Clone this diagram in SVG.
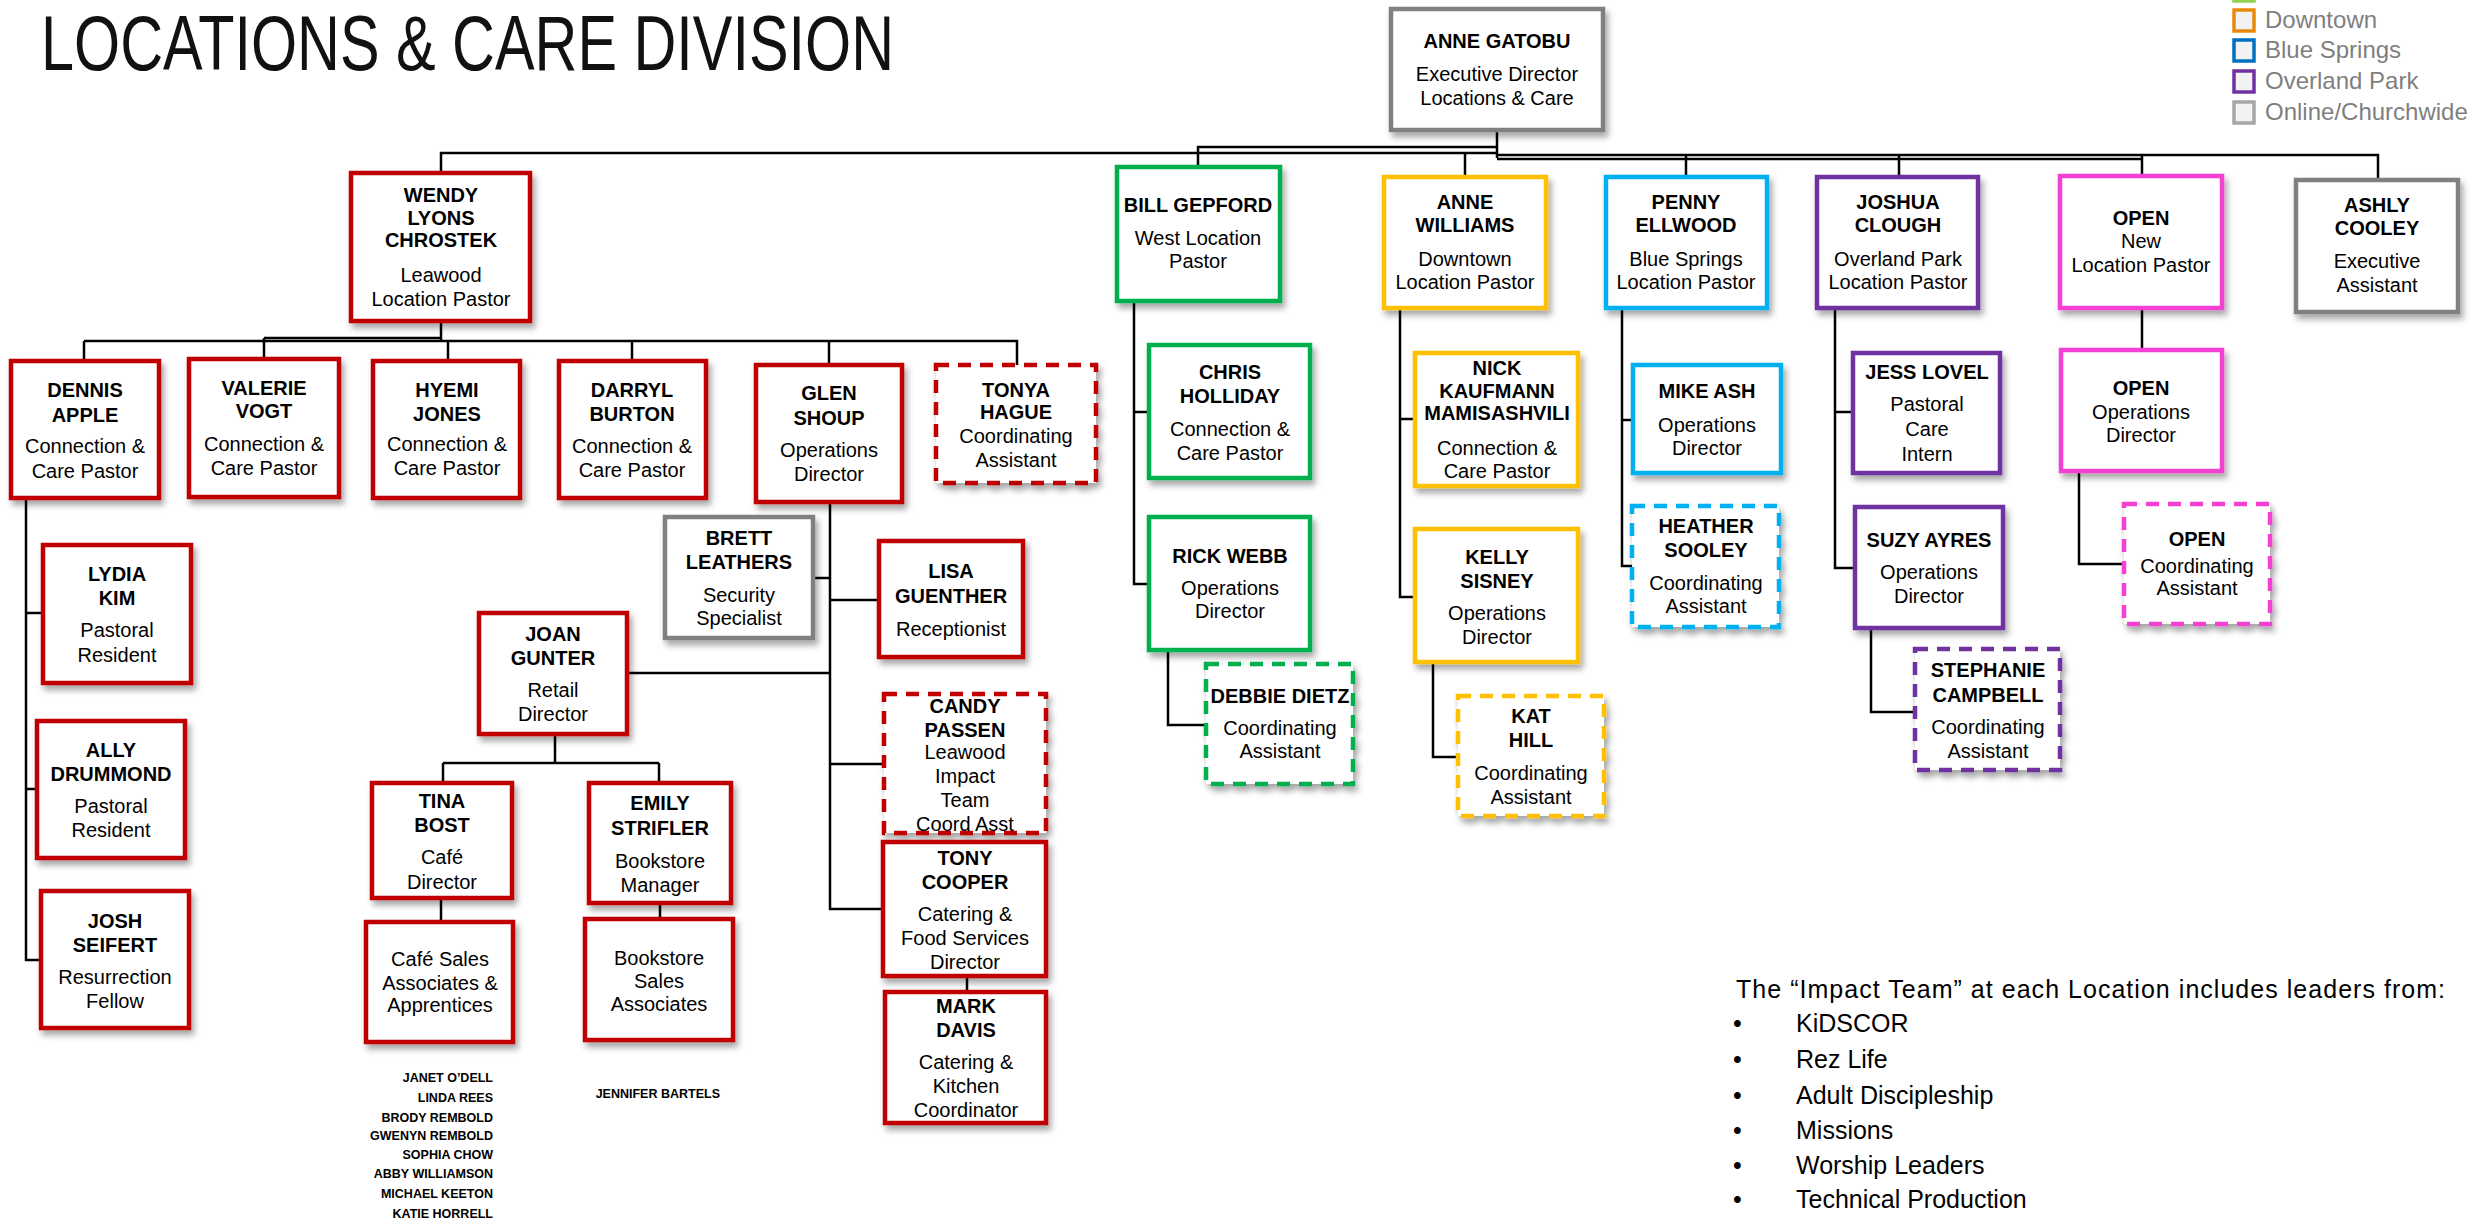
<svg xmlns="http://www.w3.org/2000/svg" width="2471" height="1225" viewBox="0 0 2471 1225">
<defs>
<filter id="sh" x="-10%" y="-10%" width="130%" height="130%">
<feDropShadow dx="3" dy="5" stdDeviation="3" flood-color="#000" flood-opacity="0.35"/>
</filter>
</defs>
<style>
.box{fill:#fff;stroke-width:4.5;filter:url(#sh)}
.d{stroke-dasharray:13 9}
.red{stroke:#c00000}.grn{stroke:#00b050}.yel{stroke:#ffc000}.blu{stroke:#00b0f0}.pur{stroke:#7030a0}.mag{stroke:#f540d4}.gry{stroke:#808080}
text{font-family:"Liberation Sans",Arial,sans-serif;fill:#000;text-anchor:middle}
.n{font-size:20px;font-weight:bold}
.s{font-size:20px}
.lst{font-size:12.5px;font-weight:bold;text-anchor:end}
.lg{font-size:24px;fill:#7f7f7f;text-anchor:start}
.it{font-size:25px;text-anchor:start}
.con path{fill:none;stroke:#000;stroke-width:2.5}
</style>
<rect width="2471" height="1225" fill="#fff"/>
<text x="41" y="70" style="font-size:77px;text-anchor:start;fill:#111" textLength="853" lengthAdjust="spacingAndGlyphs">LOCATIONS &amp; CARE DIVISION</text>

<g id="legend">
<rect x="2234" y="-19" width="20" height="20" fill="#f2f2f2" stroke="#92d050" stroke-width="3.5"/>
<rect x="2234" y="10" width="20" height="21" fill="#f2f2f2" stroke="#e8890c" stroke-width="3.5"/>
<rect x="2234" y="40" width="20" height="21" fill="#f2f2f2" stroke="#0070c0" stroke-width="3.5"/>
<rect x="2234" y="71" width="20" height="21" fill="#f2f2f2" stroke="#7030a0" stroke-width="3.5"/>
<rect x="2234" y="102" width="20" height="21" fill="#f2f2f2" stroke="#a6a6a6" stroke-width="3.5"/>
<text class="lg" x="2265" y="28">Downtown</text>
<text class="lg" x="2265" y="58">Blue Springs</text>
<text class="lg" x="2265" y="89">Overland Park</text>
<text class="lg" x="2265" y="120">Online/Churchwide</text>
</g>

<g id="connectors" class="con">
<path d="M1497 130 V158"/>
<path d="M1497 153 H441 V173"/>
<path d="M1497 147 H1198 V167"/>
<path d="M1465 153 V177"/>
<path d="M1497 155 H2378 V180"/>
<path d="M1497 159 H2142"/>
<path d="M1686 155 V177"/>
<path d="M1899 155 V177"/>
<path d="M2142 155 V175"/>
<path d="M441 321 V341"/>
<path d="M84 341 H1017 V365"/>
<path d="M84 341 V361"/>
<path d="M264 338 H441"/>
<path d="M264 338 V359"/>
<path d="M448 341 V361"/>
<path d="M632 341 V361"/>
<path d="M829 341 V365"/>
<path d="M26 498 V960 H41"/>
<path d="M26 613 H43"/>
<path d="M26 789 H37"/>
<path d="M830 502 V909 H883"/>
<path d="M814 578 H830"/>
<path d="M830 600 H879"/>
<path d="M627 673 H830"/>
<path d="M830 764 H884"/>
<path d="M555 734 V763"/>
<path d="M443 763 H659"/>
<path d="M443 763 V783"/>
<path d="M659 763 V783"/>
<path d="M441 898 V922"/>
<path d="M660 903 V919"/>
<path d="M967 976 V992"/>
<path d="M1134 301 V584 H1149"/>
<path d="M1134 412 H1149"/>
<path d="M1168 650 V725 H1206"/>
<path d="M1400 308 V597 H1415"/>
<path d="M1400 419 H1415"/>
<path d="M1433 662 V757 H1458"/>
<path d="M1622 308 V566 H1632"/>
<path d="M1622 420 H1633"/>
<path d="M1835 308 V568 H1855"/>
<path d="M1835 412 H1853"/>
<path d="M1871 628 V712 H1915"/>
<path d="M2142 308 V350"/>
<path d="M2079 471 V564 H2124"/>
</g>

<g id="anne-gatobu"><rect class="box gry" x="1391" y="9" width="212" height="121"/>
<text class="n" x="1497" y="48">ANNE GATOBU</text><text class="s" x="1497" y="81">Executive Director</text><text class="s" x="1497" y="105">Locations &amp; Care</text></g>

<g id="wendy"><rect class="box red" x="351" y="173" width="179" height="148"/>
<text class="n" x="441" y="202">WENDY</text><text class="n" x="441" y="225">LYONS</text><text class="n" x="441" y="247">CHROSTEK</text><text class="s" x="441" y="282">Leawood</text><text class="s" x="441" y="306">Location Pastor</text></g>

<g id="bill"><rect class="box grn" x="1117" y="167" width="163" height="134"/>
<text class="n" x="1198" y="212">BILL GEPFORD</text><text class="s" x="1198" y="245">West Location</text><text class="s" x="1198" y="268">Pastor</text></g>

<g id="anne-williams"><rect class="box yel" x="1384" y="177" width="162" height="131"/>
<text class="n" x="1465" y="209">ANNE</text><text class="n" x="1465" y="232">WILLIAMS</text><text class="s" x="1465" y="266">Downtown</text><text class="s" x="1465" y="289">Location Pastor</text></g>

<g id="penny"><rect class="box blu" x="1606" y="177" width="161" height="131"/>
<text class="n" x="1686" y="209">PENNY</text><text class="n" x="1686" y="232">ELLWOOD</text><text class="s" x="1686" y="266">Blue Springs</text><text class="s" x="1686" y="289">Location Pastor</text></g>

<g id="joshua"><rect class="box pur" x="1817" y="177" width="161" height="131"/>
<text class="n" x="1898" y="209">JOSHUA</text><text class="n" x="1898" y="232">CLOUGH</text><text class="s" x="1898" y="266">Overland Park</text><text class="s" x="1898" y="289">Location Pastor</text></g>

<g id="open-pastor"><rect class="box mag" x="2060" y="176" width="162" height="132"/>
<text class="n" x="2141" y="225">OPEN</text><text class="s" x="2141" y="248">New</text><text class="s" x="2141" y="272">Location Pastor</text></g>

<g id="ashly"><rect class="box gry" x="2296" y="180" width="162" height="132"/>
<text class="n" x="2377" y="212">ASHLY</text><text class="n" x="2377" y="235">COOLEY</text><text class="s" x="2377" y="268">Executive</text><text class="s" x="2377" y="292">Assistant</text></g>

<g id="dennis"><rect class="box red" x="11" y="361" width="148" height="137"/>
<text class="n" x="85" y="397">DENNIS</text><text class="n" x="85" y="422">APPLE</text><text class="s" x="85" y="453">Connection &amp;</text><text class="s" x="85" y="478">Care Pastor</text></g>

<g id="valerie"><rect class="box red" x="189" y="359" width="150" height="138"/>
<text class="n" x="264" y="395">VALERIE</text><text class="n" x="264" y="418">VOGT</text><text class="s" x="264" y="451">Connection &amp;</text><text class="s" x="264" y="475">Care Pastor</text></g>

<g id="hyemi"><rect class="box red" x="373" y="361" width="147" height="137"/>
<text class="n" x="447" y="397">HYEMI</text><text class="n" x="447" y="421">JONES</text><text class="s" x="447" y="451">Connection &amp;</text><text class="s" x="447" y="475">Care Pastor</text></g>

<g id="darryl"><rect class="box red" x="559" y="361" width="147" height="137"/>
<text class="n" x="632" y="397">DARRYL</text><text class="n" x="632" y="421">BURTON</text><text class="s" x="632" y="453">Connection &amp;</text><text class="s" x="632" y="477">Care Pastor</text></g>

<g id="glen"><rect class="box red" x="756" y="365" width="146" height="137"/>
<text class="n" x="829" y="400">GLEN</text><text class="n" x="829" y="425">SHOUP</text><text class="s" x="829" y="457">Operations</text><text class="s" x="829" y="481">Director</text></g>

<g id="tonya"><rect class="box red d" x="936" y="365" width="160" height="118"/>
<text class="n" x="1016" y="397">TONYA</text><text class="n" x="1016" y="419">HAGUE</text><text class="s" x="1016" y="443">Coordinating</text><text class="s" x="1016" y="467">Assistant</text></g>

<g id="lydia"><rect class="box red" x="43" y="545" width="148" height="138"/>
<text class="n" x="117" y="581">LYDIA</text><text class="n" x="117" y="605">KIM</text><text class="s" x="117" y="637">Pastoral</text><text class="s" x="117" y="662">Resident</text></g>

<g id="ally"><rect class="box red" x="37" y="721" width="148" height="137"/>
<text class="n" x="111" y="757">ALLY</text><text class="n" x="111" y="781">DRUMMOND</text><text class="s" x="111" y="813">Pastoral</text><text class="s" x="111" y="837">Resident</text></g>

<g id="josh"><rect class="box red" x="41" y="891" width="148" height="137"/>
<text class="n" x="115" y="928">JOSH</text><text class="n" x="115" y="952">SEIFERT</text><text class="s" x="115" y="984">Resurrection</text><text class="s" x="115" y="1008">Fellow</text></g>

<g id="brett"><rect class="box gry" x="665" y="517" width="148" height="121"/>
<text class="n" x="739" y="545">BRETT</text><text class="n" x="739" y="569">LEATHERS</text><text class="s" x="739" y="602">Security</text><text class="s" x="739" y="625">Specialist</text></g>

<g id="lisa"><rect class="box red" x="879" y="541" width="144" height="116"/>
<text class="n" x="951" y="578">LISA</text><text class="n" x="951" y="603">GUENTHER</text><text class="s" x="951" y="636">Receptionist</text></g>

<g id="joan"><rect class="box red" x="479" y="613" width="148" height="121"/>
<text class="n" x="553" y="641">JOAN</text><text class="n" x="553" y="665">GUNTER</text><text class="s" x="553" y="697">Retail</text><text class="s" x="553" y="721">Director</text></g>

<g id="candy"><rect class="box red d" x="884" y="694" width="162" height="139"/>
<text class="n" x="965" y="713">CANDY</text><text class="n" x="965" y="737">PASSEN</text><text class="s" x="965" y="759">Leawood</text><text class="s" x="965" y="783">Impact</text><text class="s" x="965" y="807">Team</text><text class="s" x="965" y="831">Coord Asst</text></g>

<g id="tony"><rect class="box red" x="883" y="842" width="163" height="134"/>
<text class="n" x="965" y="865">TONY</text><text class="n" x="965" y="889">COOPER</text><text class="s" x="965" y="921">Catering &amp;</text><text class="s" x="965" y="945">Food Services</text><text class="s" x="965" y="969">Director</text></g>

<g id="mark"><rect class="box red" x="885" y="992" width="161" height="131"/>
<text class="n" x="966" y="1013">MARK</text><text class="n" x="966" y="1037">DAVIS</text><text class="s" x="966" y="1069">Catering &amp;</text><text class="s" x="966" y="1093">Kitchen</text><text class="s" x="966" y="1117">Coordinator</text></g>

<g id="tina"><rect class="box red" x="372" y="783" width="140" height="115"/>
<text class="n" x="442" y="808">TINA</text><text class="n" x="442" y="832">BOST</text><text class="s" x="442" y="864">Café</text><text class="s" x="442" y="889">Director</text></g>

<g id="emily"><rect class="box red" x="589" y="783" width="142" height="120"/>
<text class="n" x="660" y="810">EMILY</text><text class="n" x="660" y="835">STRIFLER</text><text class="s" x="660" y="868">Bookstore</text><text class="s" x="660" y="892">Manager</text></g>

<g id="cafe-sales"><rect class="box red" x="366" y="922" width="147" height="120"/>
<text class="s" x="440" y="966">Café Sales</text><text class="s" x="440" y="990">Associates &amp;</text><text class="s" x="440" y="1012">Apprentices</text></g>

<g id="bookstore-sales"><rect class="box red" x="585" y="919" width="148" height="121"/>
<text class="s" x="659" y="965">Bookstore</text><text class="s" x="659" y="988">Sales</text><text class="s" x="659" y="1011">Associates</text></g>

<g id="cafe-names">
<text class="lst" x="493" y="1082">JANET O’DELL</text>
<text class="lst" x="493" y="1102">LINDA REES</text>
<text class="lst" x="493" y="1122">BRODY REMBOLD</text>
<text class="lst" x="493" y="1140">GWENYN REMBOLD</text>
<text class="lst" x="493" y="1159">SOPHIA CHOW</text>
<text class="lst" x="493" y="1178">ABBY WILLIAMSON</text>
<text class="lst" x="493" y="1198">MICHAEL KEETON</text>
<text class="lst" x="493" y="1218">KATIE HORRELL</text>
</g>
<g id="bookstore-names"><text class="lst" x="720" y="1098">JENNIFER BARTELS</text></g>

<g id="chris"><rect class="box grn" x="1149" y="345" width="161" height="133"/>
<text class="n" x="1230" y="379">CHRIS</text><text class="n" x="1230" y="403">HOLLIDAY</text><text class="s" x="1230" y="436">Connection &amp;</text><text class="s" x="1230" y="460">Care Pastor</text></g>

<g id="rick"><rect class="box grn" x="1149" y="517" width="161" height="133"/>
<text class="n" x="1230" y="563">RICK WEBB</text><text class="s" x="1230" y="595">Operations</text><text class="s" x="1230" y="618">Director</text></g>

<g id="debbie"><rect class="box grn d" x="1206" y="664" width="147" height="120"/>
<text class="n" x="1280" y="703">DEBBIE DIETZ</text><text class="s" x="1280" y="735">Coordinating</text><text class="s" x="1280" y="758">Assistant</text></g>

<g id="nick"><rect class="box yel" x="1415" y="353" width="163" height="133"/>
<text class="n" x="1497" y="375">NICK</text><text class="n" x="1497" y="398">KAUFMANN</text><text class="n" x="1497" y="420">MAMISASHVILI</text><text class="s" x="1497" y="455">Connection &amp;</text><text class="s" x="1497" y="478">Care Pastor</text></g>

<g id="kelly"><rect class="box yel" x="1415" y="529" width="163" height="133"/>
<text class="n" x="1497" y="564">KELLY</text><text class="n" x="1497" y="588">SISNEY</text><text class="s" x="1497" y="620">Operations</text><text class="s" x="1497" y="644">Director</text></g>

<g id="kat"><rect class="box yel d" x="1458" y="696" width="146" height="120"/>
<text class="n" x="1531" y="723">KAT</text><text class="n" x="1531" y="747">HILL</text><text class="s" x="1531" y="780">Coordinating</text><text class="s" x="1531" y="804">Assistant</text></g>

<g id="mike"><rect class="box blu" x="1633" y="365" width="148" height="108"/>
<text class="n" x="1707" y="398">MIKE ASH</text><text class="s" x="1707" y="432">Operations</text><text class="s" x="1707" y="455">Director</text></g>

<g id="heather"><rect class="box blu d" x="1632" y="506" width="147" height="121"/>
<text class="n" x="1706" y="533">HEATHER</text><text class="n" x="1706" y="557">SOOLEY</text><text class="s" x="1706" y="590">Coordinating</text><text class="s" x="1706" y="613">Assistant</text></g>

<g id="jess"><rect class="box pur" x="1853" y="353" width="147" height="120"/>
<text class="n" x="1927" y="379">JESS LOVEL</text><text class="s" x="1927" y="411">Pastoral</text><text class="s" x="1927" y="436">Care</text><text class="s" x="1927" y="461">Intern</text></g>

<g id="suzy"><rect class="box pur" x="1855" y="507" width="148" height="121"/>
<text class="n" x="1929" y="547">SUZY AYRES</text><text class="s" x="1929" y="579">Operations</text><text class="s" x="1929" y="603">Director</text></g>

<g id="stephanie"><rect class="box pur d" x="1915" y="649" width="145" height="121"/>
<text class="n" x="1988" y="677">STEPHANIE</text><text class="n" x="1988" y="702">CAMPBELL</text><text class="s" x="1988" y="734">Coordinating</text><text class="s" x="1988" y="758">Assistant</text></g>

<g id="open-ops"><rect class="box mag" x="2061" y="350" width="161" height="121"/>
<text class="n" x="2141" y="395">OPEN</text><text class="s" x="2141" y="419">Operations</text><text class="s" x="2141" y="442">Director</text></g>

<g id="open-coord"><rect class="box mag d" x="2124" y="504" width="146" height="120"/>
<text class="n" x="2197" y="546">OPEN</text><text class="s" x="2197" y="573">Coordinating</text><text class="s" x="2197" y="595">Assistant</text></g>

<g id="impact-note">
<text class="it" x="1736" y="998" textLength="709" lengthAdjust="spacing">The “Impact Team” at each Location includes leaders from:</text>
<text class="it" x="1733" y="1032">•</text><text class="it" x="1796" y="1032">KiDSCOR</text>
<text class="it" x="1733" y="1068">•</text><text class="it" x="1796" y="1068">Rez Life</text>
<text class="it" x="1733" y="1104">•</text><text class="it" x="1796" y="1104">Adult Discipleship</text>
<text class="it" x="1733" y="1139">•</text><text class="it" x="1796" y="1139">Missions</text>
<text class="it" x="1733" y="1174">•</text><text class="it" x="1796" y="1174">Worship Leaders</text>
<text class="it" x="1733" y="1208">•</text><text class="it" x="1796" y="1208">Technical Production</text>
</g>
</svg>
